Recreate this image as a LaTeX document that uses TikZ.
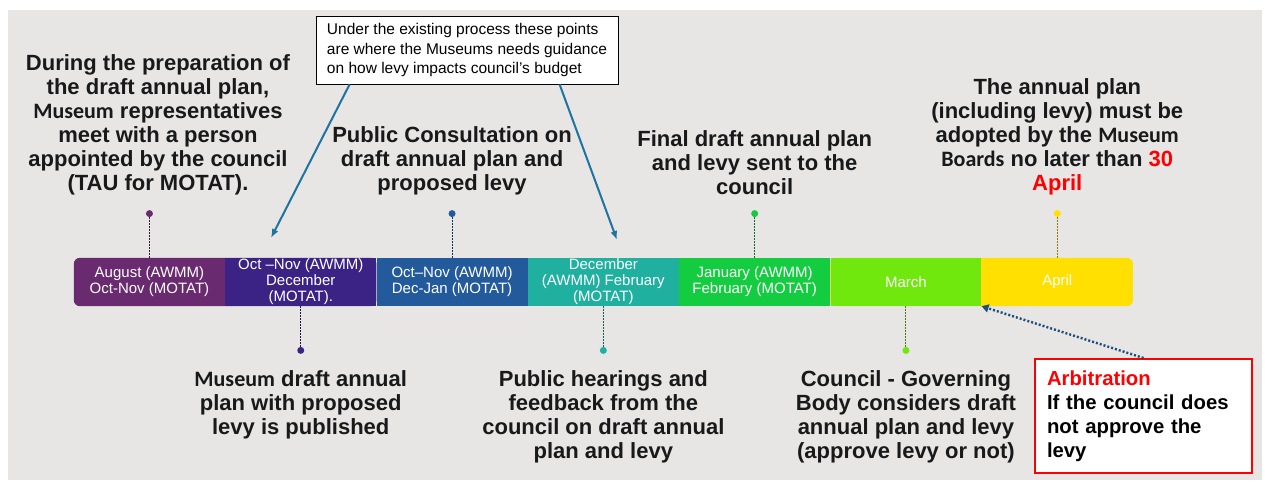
\documentclass[tikz,border=0pt]{standalone}
\usepackage{fontspec}
\setmainfont{Liberation Sans}
\newfontfamily\calfont{Carlito}
\usetikzlibrary{positioning,calc,backgrounds,arrows.meta}

\definecolor{bgGray}{RGB}{231,230,229}
\definecolor{cAug}{RGB}{106,42,112}
\definecolor{cOct}{RGB}{59,35,133}
\definecolor{cDec}{RGB}{35,90,156}
\definecolor{cFeb}{RGB}{31,176,160}
\definecolor{cJan}{RGB}{20,204,64}
\definecolor{cMar}{RGB}{112,232,14}
\definecolor{cApr}{RGB}{255,224,0}
\definecolor{cArrow}{RGB}{30,115,160}
\definecolor{cDots}{RGB}{31,78,121}

\tikzset{
    seg/.style={minimum width=150.9pt,minimum height=48pt,inner sep=0pt,
        text=white,align=center,font=\fontsize{15}{16}\selectfont},
    dotnode/.style={circle,fill=#1,inner sep=0pt,minimum size=7pt},
    stem/.style={draw=#1!55!black,line width=1pt,dash pattern=on 1.5pt off 1.5pt},
    lbl/.style={align=center,inner sep=0pt,text=black!90,
        font=\fontsize{22}{24}\selectfont\bfseries},
    callarrow/.style={draw=cArrow,line width=2pt,-{Latex[length=9pt,width=7pt]}},
}

\begin{document}
\begin{tikzpicture}[x=1pt,y=1pt]
    \useasboundingbox(0,0)rectangle(1265,482);

    % timeline bar
    \node[seg](aug)at(149.45,200){August (AWMM)\\Oct-Nov (MOTAT)};
    \node[seg,fill=cOct,right=0pt of aug](oct){Oct --Nov (AWMM)\\December\\(MOTAT).};
    \node[seg,fill=cDec,right=0pt of oct](dec){Oct--Nov (AWMM)\\Dec-Jan (MOTAT)};
    \node[seg,fill=cFeb,right=0pt of dec](feb){December\\(AWMM) February\\(MOTAT)};
    \node[seg,fill=cJan,right=0pt of feb](jan){January (AWMM)\\February (MOTAT)};
    \node[seg,fill=cMar,right=0pt of jan](mar){March};
    \node[seg,right=0pt of mar](apr){April};

    \begin{scope}[on background layer]
        \fill[bgGray](8,2)rectangle(1262,472);
        \fill[cAug,rounded corners=6pt](aug.north west)rectangle(oct.south east);
        \fill[cApr,rounded corners=6pt](mar.north west)rectangle(apr.south east);
    \end{scope}

    % dots above and below the bar
    \node[dotnode=cAug,above=40.5pt of aug](dAug){};
    \node[dotnode=cOct,below=40.5pt of oct](dOct){};
    \node[dotnode=cDec,above=40.5pt of dec](dDec){};
    \node[dotnode=cFeb,below=40.5pt of feb](dFeb){};
    \node[dotnode=cJan,above=40.5pt of jan](dJan){};
    \node[dotnode=cMar,below=40.5pt of mar](dMar){};
    \node[dotnode=cApr,above=40.5pt of apr](dApr){};

    \draw[stem=cAug](dAug)--(aug);
    \draw[stem=cOct](dOct)--(oct);
    \draw[stem=cDec](dDec)--(dec);
    \draw[stem=cFeb](dFeb)--(feb);
    \draw[stem=cJan](dJan)--(jan);
    \draw[stem=cMar](dMar)--(mar);
    \draw[stem=cApr](dApr)--(apr);

    % labels
    \node[lbl,above=15pt of dAug,xshift=8.5pt](tAug){During the preparation of\\the draft annual plan,\\{\calfont Museum} representatives\\meet with a person\\appointed by the council\\(TAU for MOTAT).};
    \node[lbl,above=15pt of dDec](tDec){Public Consultation on\\draft annual plan and\\proposed levy};
    \node[lbl,above=15pt of dJan](tJan){Final draft annual plan\\and levy sent to the\\council};
    \node[lbl,above=15pt of dApr](tApr){The annual plan\\(including levy) must be\\adopted by the {\calfont Museum}\\{\calfont Boards} no later than \textcolor{red}{30}\\\textcolor{red}{April}};

    \node[lbl,below=16pt of dOct](tOct){{\calfont Museum} draft annual\\plan with proposed\\levy is published};
    \node[lbl,below=16pt of dFeb](tFeb){Public hearings and\\feedback from the\\council on draft annual\\plan and levy};
    \node[lbl,below=16pt of dMar](tMar){Council - Governing\\Body considers draft\\annual plan and levy\\(approve levy or not)};

    % guidance note
    \node[draw=black,fill=white,line width=0.8pt,align=left,minimum width=302pt,
        minimum height=68pt,font=\fontsize{15.5}{19.5}\selectfont](note)at(467,432)
        {Under the existing process these points\\are where the Museums needs guidance\\on how levy impacts council's budget};
    \coordinate(nA)at($(note.south west)+(34,0)$);
    \coordinate(nB)at($(note.south west)+(244,0)$);
    \coordinate(tipA)at(271,244);
    \coordinate(tipB)at(617,242);
    \draw[callarrow](nA)--(tipA);
    \draw[callarrow](nB)--(tipB);

    % arbitration
    \node[draw=red,line width=2pt,fill=white,minimum width=217pt,minimum height=114pt,
        text width=193pt,align=left,inner xsep=12pt,
        font=\fontsize{20.3}{24}\selectfont\bfseries](arb)at(1143.5,66)
        {\textcolor{red}{Arbitration}\\If the council does\\not approve the\\levy};
    \draw[draw=cDots,line width=2.4pt,dash pattern=on 2pt off 2pt,
        -{Triangle[length=7pt,width=8pt]}](arb.north)--(apr.south west);
\end{tikzpicture}
\end{document}
